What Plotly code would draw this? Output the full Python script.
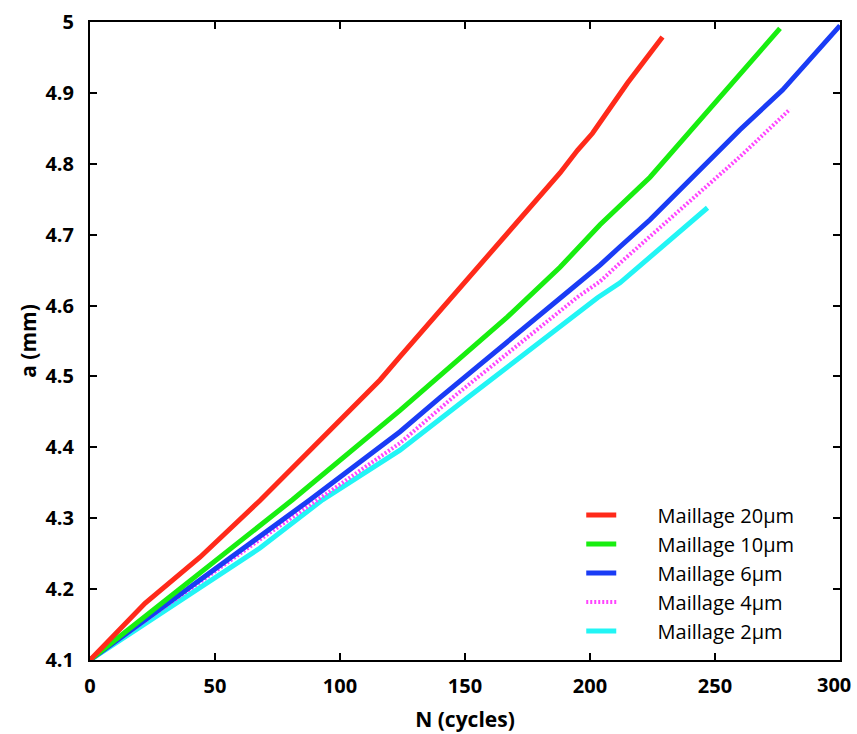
import plotly.graph_objects as go

# N (cycles) and a (mm)
n_20 = [0, 22, 44, 68, 116, 124, 188, 195, 201, 215, 229]
a_20 = [4.1, 4.18, 4.245, 4.325, 4.495, 4.528, 4.787, 4.819, 4.843, 4.914, 4.979]

n_10 = [0, 68, 81, 124, 167, 188, 204, 224, 260, 276]
a_10 = [4.1, 4.289, 4.326, 4.452, 4.584, 4.654, 4.714, 4.781, 4.928, 4.991]

n_6 = [0, 68, 88, 124, 140, 192, 204, 212, 224, 260, 277, 300]
a_6 = [4.1, 4.276, 4.326, 4.422, 4.470, 4.622, 4.657, 4.683, 4.721, 4.848, 4.904, 4.995]

n_4 = [0, 68, 124, 145, 195, 204, 212, 260, 280]
a_4 = [4.1, 4.270, 4.406, 4.470, 4.612, 4.634, 4.660, 4.810, 4.877]

n_2 = [0, 68, 93, 124, 151, 203, 212, 247]
a_2 = [4.1, 4.258, 4.326, 4.396, 4.470, 4.611, 4.632, 4.738]

labels = ["Maillage 20µm", "Maillage 10µm", "Maillage 6µm", "Maillage 4µm", "Maillage 2µm"]
colors = ["#ff2a1a", "#18ee10", "#1a3cf5", "#ff44ff", "#22f5f5"]

x_ticks = [0, 50, 100, 150, 200, 250, 300]
x_tick_text = ["0", "50", "100", "150", "200", "250", ""]
last_x_tick = 300
y_ticks = [4.1, 4.2, 4.3, 4.4, 4.5, 4.6, 4.7, 4.8, 4.9, 5.0]
y_tick_text = ["4.1", "4.2", "4.3", "4.4", "4.5", "4.6", "4.7", "4.8", "4.9", "5"]

series = [(n_20, a_20), (n_10, a_10), (n_6, a_6), (n_4, a_4), (n_2, a_2)]

fig = go.Figure()
order = [4, 3, 2, 1, 0]
for i in order:
    xs, ys = series[i]
    dash = "2px,2px" if i == 3 else "solid"
    fig.add_trace(go.Scatter(
        x=xs, y=ys, mode="lines", name="\u00a0" * 7 + labels[i],
        line=dict(color=colors[i], width=5 if i != 3 else 4, dash=dash),
        legendrank=i + 1,
    ))

tick_font = dict(family="Open Sans", size=20, color="black", weight="bold")
axis_common = dict(
    showline=True, linecolor="black", linewidth=2, mirror="ticks",
    ticks="inside", ticklen=7, tickwidth=1.5, tickcolor="black",
    showgrid=False, zeroline=False, automargin=False,
    tickfont=tick_font,
)
title_font = dict(family="Open Sans", size=21, color="black", weight="bold")

# last x tick label placed as annotation (slightly shifted as in the reference)
fig.add_annotation(x=last_x_tick, xref="x", y=0, yref="paper",
                   text=str(last_x_tick), showarrow=False,
                   xanchor="center", yanchor="top", xshift=-6, yshift=-9,
                   font=tick_font)

fig.update_layout(
    width=857, height=734,
    margin=dict(l=90, r=17, t=22, b=74, autoexpand=False),
    plot_bgcolor="white", paper_bgcolor="white",
    showlegend=True,
    legend=dict(
        x=0.655, y=0.258, xanchor="left", yanchor="top",
        bgcolor="rgba(0,0,0,0)",
        font=dict(family="Open Sans", size=20, color="black"),
        traceorder="normal",
        tracegroupgap=0,
    ),
    xaxis=dict(range=[0, 300], tickvals=x_ticks, ticktext=x_tick_text,
               ticklabelstandoff=7,
               title=dict(text="N (cycles)", standoff=14, font=title_font),
               **axis_common),
    yaxis=dict(range=[4.1, 5.0], tickvals=y_ticks, ticktext=y_tick_text,
               ticklabelstandoff=10,
               title=dict(text="a (mm)", standoff=3, font=title_font),
               **axis_common),
)

fig.write_html("out.html", config={"displayModeBar": False},
               post_script="document.body.style.margin='0';")
